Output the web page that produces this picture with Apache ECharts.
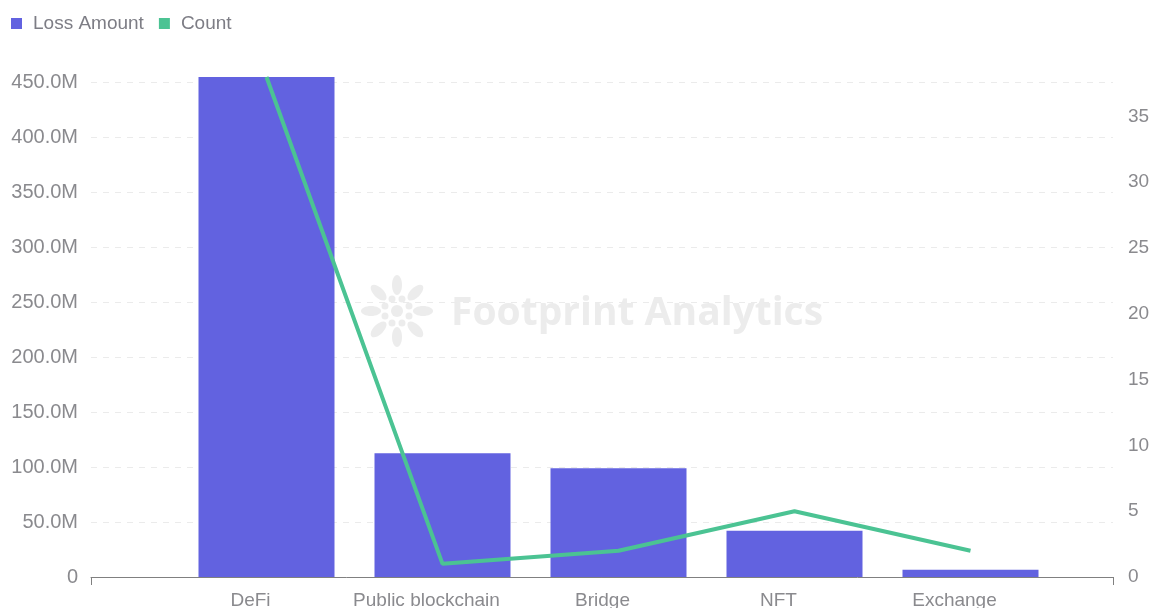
<!DOCTYPE html>
<html>
<head>
<meta charset="utf-8">
<script src="https://cdn.jsdelivr.net/npm/echarts@6/dist/echarts.min.js"></script>
<style>
html,body{margin:0;padding:0;background:#fff;}
#main{width:1154px;height:608px;}
</style>
</head>
<body>
<div id="main"></div>
<script>
// ---- data ----
var categories = ['DeFi', 'Public blockchain', 'Bridge', 'NFT', 'Exchange'];
var lossAmount = [455000000, 112500000, 99000000, 42000000, 6500000];
var countValues = [38, 1, 2, 5, 2];
var seriesNames = ['Loss Amount', 'Count'];

var maxLoss = Math.max.apply(null, lossAmount);
var maxCount = Math.max.apply(null, countValues);

var labelFont = 'Arial, "Liberation Sans", sans-serif';
var textColor = '#8a8a8e';

// watermark logo pieces
var logo = [];
var cx = 397, cy = 311, wm = '#ececec';
for (var i = 0; i < 8; i++) {
  var a = i * Math.PI / 4;
  logo.push({type: 'ellipse', shape: {cx: cx + Math.cos(a) * 26, cy: cy + Math.sin(a) * 26, rx: 10, ry: 5},
    rotation: -a, originX: cx + Math.cos(a) * 26, originY: cy + Math.sin(a) * 26, style: {fill: wm}, silent: true, z: -1});
  logo.push({type: 'circle', shape: {cx: cx + Math.cos(a + Math.PI / 8) * 13, cy: cy + Math.sin(a + Math.PI / 8) * 13, r: 3.5},
    style: {fill: wm}, silent: true, z: -1});
}
logo.push({type: 'circle', shape: {cx: cx, cy: cy, r: 6}, style: {fill: wm}, silent: true, z: -1});
logo.push({type: 'text', left: 451, top: 294, silent: true, z: -1,
  style: {text: 'Footprint Analytics', fill: wm, font: 'bold 39px "Open Sans", Lato, sans-serif'}});

var chart = echarts.init(document.getElementById('main'));
chart.setOption({
  animation: false,
  graphic: logo,
  legend: {
    left: 6, top: 9, itemWidth: 11, itemHeight: 11, itemGap: 15, icon: 'rect',
    data: seriesNames,
    textStyle: {color: '#7d7d85', fontSize: 19, fontFamily: labelFont, padding: [0, 0, 0, 6]}
  },
  grid: [
    {left: 91, right: 41, top: 77, bottom: 31, outerBoundsMode: 'none', containLabel: false},
    {left: 178.5, right: 95.5, top: 77, bottom: 31, outerBoundsMode: 'none', containLabel: false}
  ],
  xAxis: [
    {gridIndex: 0, type: 'value', min: 0, max: 1, interval: 1,
      axisLine: {show: true, lineStyle: {color: '#808080', width: 1}},
      axisTick: {show: true, length: 8, lineStyle: {color: '#808080'}},
      axisLabel: {show: false}, splitLine: {show: false}},
    {gridIndex: 1, type: 'category', data: categories,
      axisLine: {show: false}, axisTick: {show: false},
      axisLabel: {interval: 0, color: textColor, fontSize: 19, fontFamily: labelFont, margin: 14, padding: [0, 32, 0, 0]}}
  ],
  yAxis: [
    {gridIndex: 0, type: 'value', min: 0, max: maxLoss, interval: 50000000, position: 'left',
      axisLine: {show: false}, axisTick: {show: false},
      axisLabel: {color: textColor, fontSize: 20, fontFamily: labelFont, margin: 13, showMaxLabel: false,
        formatter: function (v) { return v === 0 ? '0' : (v / 1e6).toFixed(1) + 'M'; }},
      splitLine: {show: true, showMaxLine: false, lineStyle: {color: '#ebebeb', type: [6, 6]}}},
    {gridIndex: 0, type: 'value', min: 0, max: maxCount, interval: 5, position: 'right',
      axisLine: {show: false}, axisTick: {show: false},
      axisLabel: {color: textColor, fontSize: 19, fontFamily: labelFont, margin: 15, showMaxLabel: false},
      splitLine: {show: false}},
    {gridIndex: 1, type: 'value', min: 0, max: maxLoss, show: false},
    {gridIndex: 1, type: 'value', min: 0, max: maxCount, show: false}
  ],
  series: [
    {name: seriesNames[0], type: 'bar', xAxisIndex: 1, yAxisIndex: 2, data: lossAmount,
      barWidth: 136, itemStyle: {color: '#6262e0'}},
    {name: seriesNames[1], type: 'line', xAxisIndex: 1, yAxisIndex: 3, data: countValues,
      showSymbol: false, symbol: 'none', lineStyle: {color: '#4bc393', width: 4}, itemStyle: {color: '#4bc393'}, z: 3}
  ]
});
</script>
</body>
</html>
